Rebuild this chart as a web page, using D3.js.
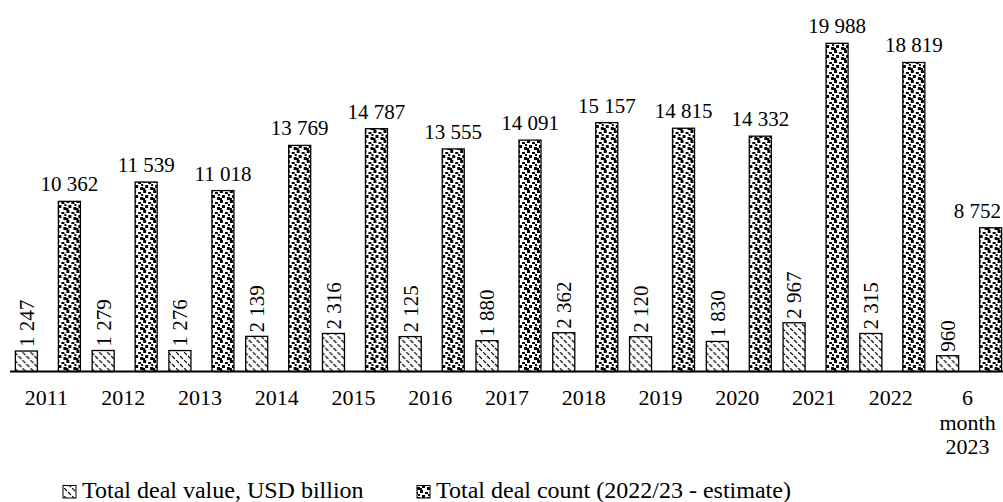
<!DOCTYPE html>
<html><head><meta charset="utf-8">
<script src="https://cdn.jsdelivr.net/npm/d3@7/dist/d3.min.js"></script>
<style>
html,body{margin:0;padding:0;background:#fff;}
svg text{font-family:"Liberation Serif","Times New Roman",serif !important;fill:#000;}
</style></head>
<body>
<svg id="chart" width="1003" height="502" font-family="Liberation Serif"></svg>
<script>
const categories = ["2011","2012","2013","2014","2015","2016","2017","2018","2019","2020","2021","2022","6 month 2023"];
const dealValue = [1247,1279,1276,2139,2316,2125,1880,2362,2120,1830,2967,2315,960];
const dealCount = [10362,11539,11018,13769,14787,13555,14091,15157,14815,14332,19988,18819,8752];
const seriesNames = ["Total deal value, USD billion","Total deal count (2022/23 - estimate)"];

const FONT = "Liberation Serif";
const FS_LABEL = 21, FS_TICK = 22, FS_LEG = 24;
const svg = d3.select("#chart");
const defs = svg.append("defs");

// diagonal dashed pattern
const p1 = defs.append("pattern").attr("id","diag").attr("patternUnits","userSpaceOnUse")
  .attr("width",8).attr("height",8);
p1.append("rect").attr("width",8).attr("height",8).attr("fill","#fff");
p1.append("path").attr("d","M0,0 L3,3 M4,4 L7,7 M-4,4 L-1,7 M4,-4 L7,-1")
  .attr("stroke","#000").attr("stroke-width",1.1);
// confetti pattern
const p2 = defs.append("pattern").attr("id","conf").attr("patternUnits","userSpaceOnUse")
  .attr("width",10).attr("height",10);
p2.append("rect").attr("width",10).attr("height",10).attr("fill","#fff");
[[0,0,3,3],[5,2,3,2],[2,5,3,3],[7,7,3,3],[8,4,2,2],[0,8,2,2]].forEach(s=>{
  p2.append("rect").attr("x",s[0]).attr("y",s[1]).attr("width",s[2]).attr("height",s[3]).attr("fill","#000");
});

const x0 = d3.scaleBand().domain(categories).range([8,1006]).padding(0);
const x1 = d3.scaleBand().domain(["value","count"]).range([-31,34]).paddingInner(0.488).paddingOuter(0);
const y = d3.scaleLinear().domain([0,22625]).range([371.5,0]);
const fmt = d3.formatLocale({thousands:" ",grouping:[3],decimal:".",currency:["",""]}).format(",d");

const data = categories.map((c,i)=>({cat:c, value:dealValue[i], count:dealCount[i]}));
const g = svg.append("g");

const groups = g.selectAll("g.cat").data(data).join("g")
  .attr("transform", d=>`translate(${x0(d.cat)+x0.bandwidth()/2},0)`);

groups.append("rect")
  .attr("x", x1("value")).attr("width", x1.bandwidth())
  .attr("y", d=>y(d.value)).attr("height", d=>y(0)-y(d.value))
  .attr("fill","url(#diag)").attr("stroke","#000").attr("stroke-width",1.3);
groups.append("rect")
  .attr("x", x1("count")).attr("width", x1.bandwidth())
  .attr("y", d=>y(d.count)).attr("height", d=>y(0)-y(d.count))
  .attr("fill","url(#conf)").attr("stroke","#000").attr("stroke-width",1.3);

// value labels (rotated)
groups.append("text")
  .attr("transform", d=>`translate(${x1("value")+x1.bandwidth()/2},${y(d.value)-4}) rotate(-90)`)
  .attr("dy","0.35em").attr("text-anchor","start")
  .attr("font-family",FONT).attr("font-size",FS_LABEL)
  .text(d=>fmt(d.value));
// count labels
const cl = groups.append("text")
  .attr("x", x1("count")+x1.bandwidth()/2).attr("y", d=>y(d.count)-10)
  .attr("text-anchor","middle")
  .attr("font-family",FONT).attr("font-size",FS_LABEL)
  .text(d=>fmt(d.count));
// keep labels inside the chart area
cl.each(function(d){
  const cx = x0(d.cat)+x0.bandwidth()/2;
  const b = this.getBBox();
  const right = cx + b.x + b.width;
  if (right > 1001) d3.select(this).attr("x", +d3.select(this).attr("x") - (right-1001));
});

// x axis
const xAxis = d3.axisBottom(x0).tickSize(0).tickPadding(0);
const ax = svg.append("g").attr("transform",`translate(0,${y(0)})`).call(xAxis);
ax.attr("font-family",FONT);
ax.select(".domain").remove();
svg.append("line").attr("x1",10).attr("x2",1003).attr("y1",y(0)).attr("y2",y(0))
  .attr("stroke","#000").attr("stroke-width",2);
ax.selectAll(".tick text").each(function(d){
  const t = d3.select(this);
  t.text(null).attr("y",0).attr("dy",null).attr("font-size",FS_TICK)
   .attr("font-family",FONT).attr("fill","#000");
  const words = d==="6 month 2023" ? ["6","month","2023"] : [d];
  words.forEach((w,i)=>{
    t.append("tspan").attr("x",0).attr("y",33.5+i*24.5).text(w);
  });
});

// legend
const leg = svg.append("g");
const legItems = [{name:seriesNames[0],fill:"url(#diag)",x:63},{name:seriesNames[1],fill:"url(#conf)",x:417}];
legItems.forEach(it=>{
  leg.append("rect").attr("x",it.x).attr("y",485.5).attr("width",13).attr("height",12.5)
    .attr("fill",it.fill).attr("stroke","#000").attr("stroke-width",1);
  leg.append("text").attr("x",it.x+19).attr("y",497.5)
    .attr("font-family",FONT).attr("font-size",FS_LEG).text(it.name);
});
</script>
</body></html>
